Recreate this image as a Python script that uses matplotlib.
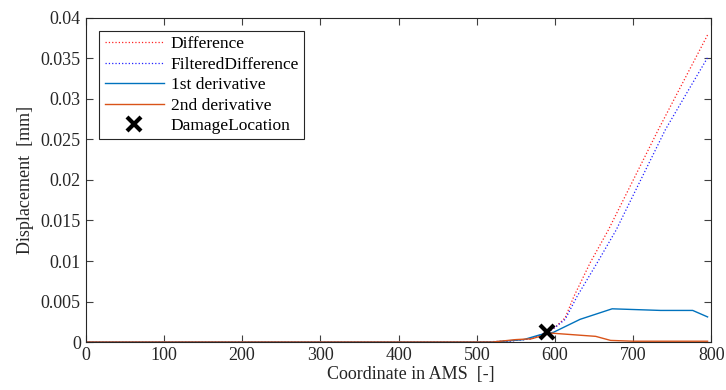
import matplotlib.pyplot as plt
from matplotlib.ticker import FixedLocator

plt.rcParams['font.family'] = ['Liberation Serif', 'DejaVu Serif']
plt.rcParams['font.size'] = 13

# Curvas a lo largo de la coordenada AMS
x_diff = [0, 500, 540, 570, 590, 600, 613, 624, 645, 668, 732, 795]
y_diff = [0, 0, 0.0001, 0.0004, 0.0012, 0.0018, 0.0030, 0.0056, 0.0098, 0.0138, 0.0262, 0.0379]

x_filt = [0, 500, 540, 570, 590, 600, 613, 628, 654, 678, 741, 770, 795]
y_filt = [0, 0, 0.0001, 0.0004, 0.0012, 0.0018, 0.0028, 0.0056, 0.0098, 0.0138, 0.0262, 0.0310, 0.0351]

x_d1 = [0, 520, 560, 581, 598, 632, 673, 735, 776, 795]
y_d1 = [0, 0, 0.0003, 0.0009, 0.0012, 0.0028, 0.0041, 0.0039, 0.0039, 0.0031]

x_d2 = [0, 520, 550, 570, 595, 652, 671, 700, 795]
y_d2 = [0, 0, 0.0003, 0.0004, 0.0011, 0.0007, 0.0002, 0.0001, 0.0001]

dano_x = [590]
dano_y = [0.0012]

fig, ax = plt.subplots(figsize=(7.26, 3.9), dpi=100)
fig.subplots_adjust(left=0.118, right=0.98, top=0.954, bottom=0.123)

ax.plot(x_diff, y_diff, ':', color='#ff2020', lw=0.9, label='Difference')
ax.plot(x_filt, y_filt, ':', color='#2020ff', lw=0.9, label='FilteredDifference')
ax.plot(x_d1, y_d1, '-', color='#0072BD', lw=1.0, label='1st derivative')
ax.plot(x_d2, y_d2, '-', color='#D95319', lw=1.0, label='2nd derivative')
ax.plot(dano_x, dano_y, 'x', color='black', ms=10, mew=3, label='DamageLocation')

ax.set_xlim(0, 800)
ax.set_ylim(0, 0.04)
ax.xaxis.set_major_locator(FixedLocator(range(0, 801, 100)))
ax.yaxis.set_major_locator(FixedLocator([0, 0.005, 0.01, 0.015, 0.02, 0.025, 0.03, 0.035, 0.04]))
ax.set_yticklabels(['0', '0.005', '0.01', '0.015', '0.02', '0.025', '0.03', '0.035', '0.04'])

ax.tick_params(direction='in', top=True, right=True, length=5, color='#404040',
               labelcolor='#262626', labelsize=13)
for s in ax.spines.values():
    s.set_color('#262626')
    s.set_linewidth(0.8)

ax.set_xlabel('Coordinate in AMS  [-]', labelpad=1, color='#262626', fontsize=13)
ax.xaxis.set_label_coords(0.52, -0.075)
ax.set_ylabel('Displacement  [mm]', labelpad=5, color='#262626', fontsize=13)

leg = ax.legend(loc='upper left', bbox_to_anchor=(0.022, 0.96), fancybox=False,
                edgecolor='#262626', framealpha=1, handlelength=3.4, fontsize=12.5,
                borderpad=0.3, labelspacing=0.25, handletextpad=0.4, borderaxespad=0)
leg.get_frame().set_linewidth(0.8)

fig.savefig('out.png', dpi=100)
